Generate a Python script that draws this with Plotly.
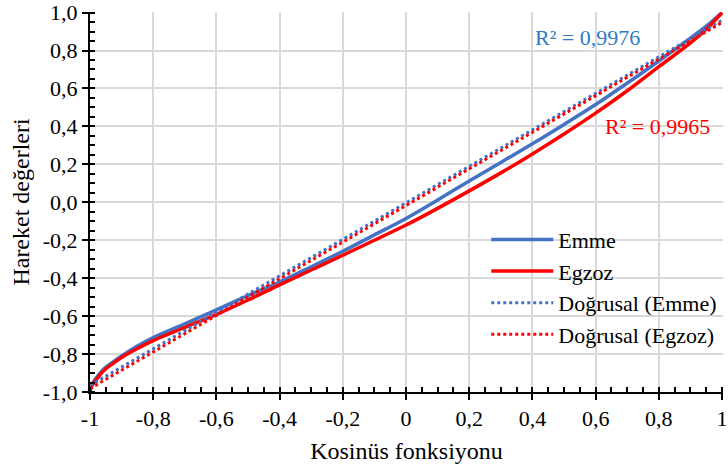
import plotly.graph_objects as go

# ---- data ----
x_cos = [-1.0, -0.995, -0.98, -0.96, -0.93, -0.9, -0.85, -0.8, -0.7, -0.6, -0.5,
         -0.4, -0.3, -0.2, -0.1, 0.0, 0.1, 0.2, 0.3, 0.4, 0.5, 0.6, 0.7, 0.8,
         0.9, 0.95, 1.0]
emme = [-1.0, -0.965, -0.925, -0.885, -0.845, -0.81, -0.758, -0.713, -0.641,
        -0.567, -0.492, -0.42, -0.34, -0.258, -0.172, -0.085, 0.012, 0.112,
        0.21, 0.308, 0.41, 0.515, 0.628, 0.745, 0.865, 0.928, 1.0]
egzoz = [-1.0, -0.97, -0.935, -0.893, -0.853, -0.818, -0.771, -0.729, -0.66,
         -0.591, -0.515, -0.435, -0.357, -0.279, -0.2, -0.12, -0.032, 0.06,
         0.155, 0.255, 0.36, 0.47, 0.588, 0.715, 0.84, 0.912, 1.0]
# linear trend lines (Excel "Doğrusal"), values at the ends of the x range
trend_x = [-1.0, 1.0]
trend_emme = [-0.965, 0.959]
trend_egzoz = [-0.982, 0.948]
series_names = ["Emme", "Egzoz", "Doğrusal (Emme)", "Doğrusal (Egzoz)"]
r2_labels = ["R² = 0,9976", "R² = 0,9965"]
x_tickvals = [-1.0, -0.8, -0.6, -0.4, -0.2, 0.0, 0.2, 0.4, 0.6, 0.8, 1.0]
x_ticktext = ["-1", "-0,8", "-0,6", "-0,4", "-0,2", "0", "0,2", "0,4", "0,6", "0,8", "1"]
y_tickvals = [-1.0, -0.8, -0.6, -0.4, -0.2, 0.0, 0.2, 0.4, 0.6, 0.8, 1.0]
y_ticktext = ["-1,0", "-0,8", "-0,6", "-0,4", "-0,2", "0,0", "0,2", "0,4", "0,6", "0,8", "1,0"]
x_title = "Kosinüs fonksiyonu"
y_title = "Hareket değerleri"

BLUE = "#4472C4"
RED = "#FF0000"
R2_BLUE = "#2E7BC4"
FONT = "Liberation Serif, Tinos, Times New Roman, serif"
X_RANGE = [-1, 1.003]
Y_RANGE = [-1, 1.003]

fig = go.Figure()
fig.add_trace(go.Scatter(x=x_cos, y=emme, mode="lines", name=series_names[0],
                         line=dict(color=BLUE, width=3.5, shape="spline")))
fig.add_trace(go.Scatter(x=x_cos, y=egzoz, mode="lines", name=series_names[1],
                         line=dict(color=RED, width=3.5, shape="spline")))
fig.add_trace(go.Scatter(x=trend_x, y=trend_emme, mode="lines", name=series_names[2],
                         line=dict(color=BLUE, width=3, dash="dot")))
fig.add_trace(go.Scatter(x=trend_x, y=trend_egzoz, mode="lines", name=series_names[3],
                         line=dict(color=RED, width=3, dash="dot")))
# invisible helper trace for the overlay axes (inner half of major ticks)
fig.add_trace(go.Scatter(x=x_cos[:1], y=emme[:1], xaxis="x2", yaxis="y2", mode="markers",
                         marker=dict(opacity=0), showlegend=False, hoverinfo="skip"))

common = dict(showline=True, linecolor="black", linewidth=2,
              ticks="outside", ticklen=6, tickwidth=2, tickcolor="black",
              showgrid=True, gridcolor="#D9D9D9", gridwidth=1.5, zeroline=False,
              ticklabeloverflow="allow",
              tickfont=dict(family=FONT, size=22, color="black"),
              minor=dict(ticks="inside", ticklen=5, tickwidth=1.5, tickcolor="black",
                         dtick=0.05, tick0=0, showgrid=False))

fig.update_layout(
    width=728, height=470,
    margin=dict(l=90, r=0, t=8, b=78),
    paper_bgcolor="white", plot_bgcolor="white",
    font=dict(family=FONT, size=22, color="black"),
    xaxis=dict(**common, range=X_RANGE, tickmode="array", tickvals=x_tickvals, ticktext=x_ticktext,
               title=dict(text=x_title, font=dict(family=FONT, size=24), standoff=12)),
    yaxis=dict(**common, range=Y_RANGE, tickmode="array", tickvals=y_tickvals, ticktext=y_ticktext,
               title=dict(text=y_title, font=dict(family=FONT, size=24), standoff=6)),
    xaxis2=dict(overlaying="x", anchor="y2", range=X_RANGE, tickmode="array", tickvals=x_tickvals,
                ticks="inside", ticklen=5, tickwidth=2, tickcolor="black",
                showticklabels=False, showgrid=False, zeroline=False, showline=False),
    yaxis2=dict(overlaying="y", anchor="x2", range=Y_RANGE, tickmode="array", tickvals=y_tickvals,
                ticks="inside", ticklen=5, tickwidth=2, tickcolor="black",
                showticklabels=False, showgrid=False, zeroline=False, showline=False),
    legend=dict(x=0.626, y=0.456, xanchor="left", yanchor="top", itemwidth=62,
                bgcolor="rgba(0,0,0,0)", font=dict(family=FONT, size=22, color="black"),
                tracegroupgap=0),
    showlegend=True,
)

fig.add_annotation(x=0.575, y=0.87, xref="x", yref="y", text=r2_labels[0], showarrow=False,
                   font=dict(family=FONT, size=22, color=R2_BLUE))
fig.add_annotation(x=0.795, y=0.398, xref="x", yref="y", text=r2_labels[1], showarrow=False,
                   font=dict(family=FONT, size=22, color=RED))

fig.write_html("out.html")
